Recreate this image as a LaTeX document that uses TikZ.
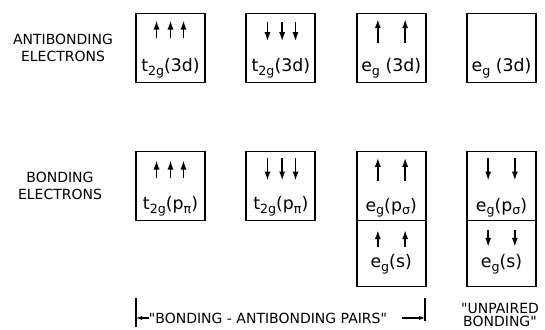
\documentclass[tikz,border=0pt]{standalone}
\usepackage{fontspec}
\setmainfont{DejaVu Sans}
\usetikzlibrary{positioning, arrows.meta}
\tikzstyle{orb}=[draw,line width=1.3pt,outer sep=0pt,inner sep=0pt,minimum width=51.75pt,minimum height=51.75pt]
\tikzstyle{every node}=[font=\fontsize{10.5}{12.5}\selectfont]
\tikzstyle{lbl}=[anchor=base,inner sep=0pt,font=\fontsize{13}{15}\selectfont]
\tikzstyle{spin}=[line width=1.4pt,-{Latex[length=7pt,width=4.6pt]}]
\tikzstyle{span}=[line width=0.9pt,-{Latex[length=4.5pt,width=3.2pt]}]
\newcommand{\lowidx}[1]{\raisebox{-0.4ex}{\fontsize{9.5}{10}\selectfont #1}}
% electrons in a box: box, tail depth, head depth, x offsets (pt)
\newcommand{\spins}[4]{%
  \foreach \dx in {#4}
    \draw[spin] ([xshift=\dx pt,yshift=-#2 pt]#1.north) -- ([xshift=\dx pt,yshift=-#3 pt]#1.north);}

\begin{document}
\begin{tikzpicture}[x=0.75pt,y=-0.75pt,node distance=31pt]
            \useasboundingbox (0,0) rectangle (545,329);
            % antibonding row
            \node[orb] (A1) at (170.5,48) {};
            \node[orb, right=of A1] (A2) {};
            \node[orb, right=of A2] (A3) {};
            \node[orb, right=of A3] (A4) {};
            % bonding row
            \node[orb, below=51.75pt of A1] (B1) {};
            \node[orb, below=51.75pt of A2] (B2) {};
            \node[orb, below=51.75pt of A3] (B3) {};
            \node[orb, below=51.75pt of A4] (B4) {};
            \node[orb, minimum height=49.5pt, below=0pt of B3] (C3) {};
            \node[orb, minimum height=49.5pt, below=0pt of B4] (C4) {};
            % labels
            \node[lbl] (A1t) at ([yshift=8pt]A1.south) {t\lowidx{2g}(3d)};
            \node[lbl] (A2t) at ([yshift=8pt]A2.south) {t\lowidx{2g}(3d)};
            \node[lbl] (A3t) at ([yshift=8pt]A3.south) {e\lowidx{g} (3d)};
            \node[lbl] (A4t) at ([yshift=8pt]A4.south) {e\lowidx{g} (3d)};
            \node[lbl] (B1t) at ([yshift=8pt]B1.south) {t\lowidx{2g}(p\lowidx{π})};
            \node[lbl] (B2t) at ([yshift=8pt]B2.south) {t\lowidx{2g}(p\lowidx{π})};
            \node[lbl] (B3t) at ([yshift=7pt]B3.south) {e\lowidx{g}(p\lowidx{σ})};
            \node[lbl] (B4t) at ([yshift=7pt]B4.south) {e\lowidx{g}(p\lowidx{σ})};
            \node[lbl] (C3t) at ([yshift=14pt]C3.south) {e\lowidx{g}(s)};
            \node[lbl] (C4t) at ([yshift=14pt]C4.south) {e\lowidx{g}(s)};
            % electrons
            \spins{A1}{18}{5}{-10.5,0,9.75}
            \spins{A2}{6}{21}{-10,1,11}
            \spins{A3}{22}{4}{-10,10.5}
            \spins{B1}{20}{6.5}{-10.5,0,9.75}
            \spins{B2}{5}{22}{-10,1,11}
            \spins{B3}{22}{4.5}{-10,10.5}
            \spins{B4}{5}{22}{-10,10}
            \spins{C3}{20}{7}{-10,10.5}
            \spins{C4}{7}{20}{-10,10}
            % row captions
            \node[align=center] (anti) at (63,48) {ANTIBONDING\\ELECTRONS};
            \node[align=center] (bond) at (60,186) {BONDING\\ELECTRONS};
            % pairs bracket
            \node[inner sep=0pt] (pairs) at (268,318) {\textquotedbl BONDING - ANTIBONDING PAIRS\textquotedbl};
            \coordinate (lt) at (136,298);
            \coordinate (lb) at (136,327);
            \coordinate (la) at (136,318);
            \coordinate (rt) at (425,298);
            \coordinate (rb) at (425,321);
            \coordinate (ra) at (425,318);
            \draw[line width=0.9pt] (lt) -- (lb);
            \draw[line width=0.9pt] (rt) -- (rb);
            \draw[span] (pairs.west) -- (la);
            \draw[span] ([xshift=11pt]pairs.east) -- (ra);
            \node[align=center, font=\fontsize{10.5}{10}\selectfont] (unpaired) at (500,315) {\textquotedbl UNPAIRED\\BONDING\textquotedbl};
        \end{tikzpicture}
\end{document}
